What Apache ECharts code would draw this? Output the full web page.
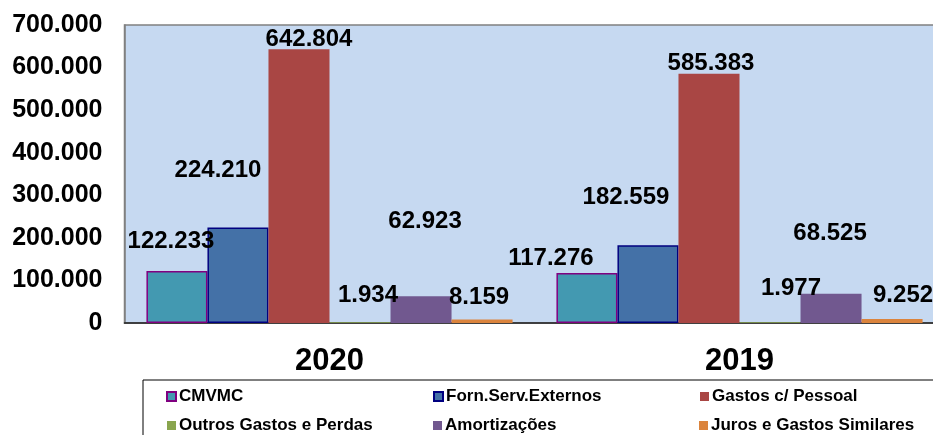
<!DOCTYPE html>
<html>
<head>
<meta charset="utf-8">
<script src="https://cdn.jsdelivr.net/npm/echarts@6/dist/echarts.min.js"></script>
<style>html,body{margin:0;padding:0;background:#fff;overflow:hidden}#c{width:960px;height:435px}</style>
</head>
<body>
<div id="c"></div>
<script>
const categories = ['2020', '2019'];
const seriesNames = ['CMVMC', 'Forn.Serv.Externos', 'Gastos c/ Pessoal', 'Outros Gastos e Perdas', 'Amortizações', 'Juros e Gastos Similares'];
const cmvmc = [122233, 117276];
const fornServExternos = [224210, 182559];
const gastosPessoal = [642804, 585383];
const outrosGastos = [1934, 1977];
const amortizacoes = [62923, 68525];
const juros = [8159, 9252];
const yTicks = [0, 100000, 200000, 300000, 400000, 500000, 600000, 700000];

const values = [cmvmc, fornServExternos, gastosPessoal, outrosGastos, amortizacoes, juros];
const fills = ['#4399B1', '#4471A7', '#A94644', '#89A54E', '#71588F', '#DB843D'];
const borders = ['#800080', '#000080', null, null, null, null];
// label offsets [x,y] per series, per category (Excel-like placement)
const labelOffsets = [
  [[-6, -13], [-36, 2]],
  [[-20, -40], [-22, -31]],
  [[10, 7], [2, 7]],
  [[8, -10], [21, -17]],
  [[4, -58], [-1, -43]],
  [[-3, -5], [11, -7]]
];

function fmt(v) {
  return String(v).replace(/\B(?=(\d{3})+(?!\d))/g, '.');
}

const FONT = 'Liberation Sans, Arial, sans-serif';

const series = seriesNames.map((name, i) => ({
  name: name,
  type: 'bar',
  barGap: '0%',
  barCategoryGap: '10.7%',
  itemStyle: {
    color: fills[i],
    borderColor: borders[i] || fills[i],
    borderWidth: borders[i] ? 1.5 : 0
  },
  data: values[i].map((v, j) => ({
    value: v,
    label: { offset: labelOffsets[i][j] }
  })),
  label: {
    show: true,
    position: 'top',
    distance: 5,
    formatter: p => fmt(p.value),
    fontFamily: FONT,
    fontWeight: 'bold',
    fontSize: 24,
    color: '#000'
  }
}));

const chart = echarts.init(document.getElementById('c'));
chart.setOption({
  animation: false,
  backgroundColor: '#fff',
  grid: {
    left: 124.5, top: 25, right: 15.5, bottom: 112,
    show: true, backgroundColor: '#C6D9F1', borderColor: '#808080', borderWidth: 1.5
  },
  xAxis: {
    type: 'category',
    data: categories,
    axisLine: { lineStyle: { color: '#222', width: 1.5 } },
    axisTick: { show: false },
    axisLabel: { margin: 23, fontFamily: FONT, fontWeight: 'bold', fontSize: 31, color: '#000' }
  },
  yAxis: {
    type: 'value',
    min: yTicks[0],
    max: yTicks[yTicks.length - 1],
    interval: yTicks[1] - yTicks[0],
    splitLine: { show: false },
    axisLine: { show: true, lineStyle: { color: '#808080', width: 1.5 } },
    axisTick: { show: false },
    axisLabel: { margin: 22, fontFamily: FONT, fontWeight: 'bold', fontSize: 25, color: '#000', formatter: v => fmt(v) }
  },
  legend: {
    left: 143, top: 380,
    width: 812,
    padding: [2, 0, 6, 23],
    borderColor: '#000', borderWidth: 1,
    icon: 'rect', itemWidth: 9, itemHeight: 9, itemGap: 0,
    textStyle: { fontFamily: FONT, fontWeight: 'bold', fontSize: 17, color: '#000', width: 254, lineHeight: 29, padding: [0, 0, 0, -2] },
    data: seriesNames
  },
  series: series
});
</script>
</body>
</html>
